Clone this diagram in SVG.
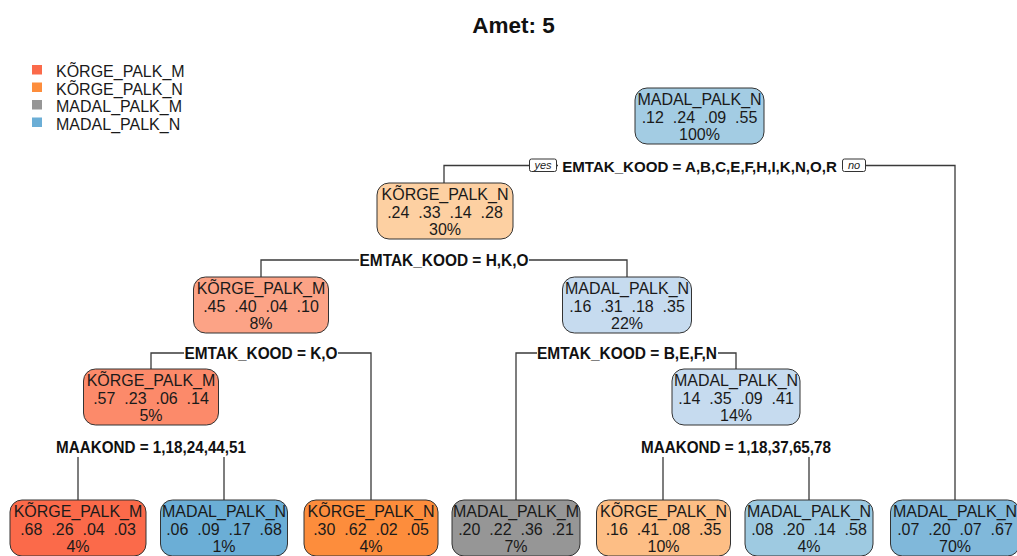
<svg xmlns="http://www.w3.org/2000/svg" width="1017" height="556" viewBox="0 0 1017 556">
  <style>
    .title { font-family: "Liberation Sans", Arial, sans-serif; font-weight: bold; font-size: 22.5px; fill: #111; text-anchor: middle; }
    .legend { font-family: "Liberation Sans", Arial, sans-serif; font-size: 16px; fill: #1a1a1a; }
    .box { stroke: #333; stroke-width: 1; }
    .nt { font-family: "Liberation Sans", Arial, sans-serif; font-size: 16px; fill: #1a1a1a; text-anchor: middle; white-space: pre; }
    .split { font-family: "Liberation Sans", Arial, sans-serif; font-weight: bold; font-size: 16px; fill: #111; text-anchor: middle; }
    .split-root { font-size: 15.1px; }
    .lbg { fill: #ffffff; }
    .edge { stroke: #3a3a3a; stroke-width: 1.3; fill: none; }
    .yn { fill: #ffffff; stroke: #333; stroke-width: 1; }
    .ynt { font-family: "Liberation Sans", Arial, sans-serif; font-style: italic; font-size: 11px; fill: #222; text-anchor: middle; }
  </style>

  <text class="title" x="513.5" y="33">Amet: 5</text>

  <!-- legend -->
  <g id="legend">
    <rect x="32" y="65" width="10" height="9.5" fill="#FB6A4A"/>
    <text class="legend" x="56" y="77">KÕRGE_PALK_M</text>
    <rect x="32" y="82.5" width="10" height="9.5" fill="#FD8D3C"/>
    <text class="legend" x="56" y="94.5">KÕRGE_PALK_N</text>
    <rect x="32" y="100" width="10" height="9.5" fill="#969696"/>
    <text class="legend" x="56" y="112">MADAL_PALK_M</text>
    <rect x="32" y="117.5" width="10" height="9.5" fill="#6BAED6"/>
    <text class="legend" x="56" y="129.5">MADAL_PALK_N</text>
  </g>

  <!-- connectors and split labels -->
  <g id="connectors">
    <path class="edge" d="M444 183 V165.5 H955 V500"/>
    <path class="edge" d="M261 277 V260 H627 V277"/>
    <path class="edge" d="M151 369 V353 H371 V500"/>
    <path class="edge" d="M516 500 V353 H736 V369"/>
    <path class="edge" d="M78 500 V446.5 H224 V500"/>
    <path class="edge" d="M663 500 V446.5 H809 V500"/>

    <rect class="lbg" x="558" y="158" width="284" height="17"/>
    <text class="split split-root" x="699.5" y="171.5">EMTAK_KOOD = A,B,C,E,F,H,I,K,N,O,R</text>
    <rect class="yn" x="529.5" y="159" width="27" height="12.5" rx="2"/>
    <text class="ynt" x="543" y="169">yes</text>
    <rect class="yn" x="842.5" y="159" width="23" height="12.5" rx="2"/>
    <text class="ynt" x="854" y="169">no</text>

    <rect class="lbg" x="359" y="252.5" width="170" height="17"/>
    <text class="split" x="444" y="266" textLength="169" lengthAdjust="spacingAndGlyphs">EMTAK_KOOD = H,K,O</text>

    <rect class="lbg" x="184" y="345.5" width="154" height="17"/>
    <text class="split" x="261" y="359" textLength="153" lengthAdjust="spacingAndGlyphs">EMTAK_KOOD = K,O</text>

    <rect class="lbg" x="537" y="345.5" width="181" height="17"/>
    <text class="split" x="627" y="359" textLength="180" lengthAdjust="spacingAndGlyphs">EMTAK_KOOD = B,E,F,N</text>

    <rect class="lbg" x="55" y="439.5" width="192" height="17.5"/>
    <text class="split" x="151" y="453" textLength="190" lengthAdjust="spacingAndGlyphs">MAAKOND = 1,18,24,44,51</text>

    <rect class="lbg" x="640" y="439.5" width="192" height="17.5"/>
    <text class="split" x="736" y="453" textLength="190" lengthAdjust="spacingAndGlyphs">MAAKOND = 1,18,37,65,78</text>
  </g>

  <!-- nodes -->
  <g id="node1">
    <rect class="box" x="635" y="88" width="129" height="56" rx="12" fill="#A3CCE3"/>
    <text class="nt" x="699.5" y="105">MADAL_PALK_N</text>
    <text class="nt" x="699.5" y="123" xml:space="preserve">.12  .24  .09  .55</text>
    <text class="nt" x="699.5" y="140">100%</text>
  </g>
  <g id="node2">
    <rect class="box" x="377" y="183" width="136" height="56" rx="12" fill="#FDD0A2"/>
    <text class="nt" x="445" y="200">KÕRGE_PALK_N</text>
    <text class="nt" x="445" y="218" xml:space="preserve">.24  .33  .14  .28</text>
    <text class="nt" x="445" y="235">30%</text>
  </g>
  <g id="node4">
    <rect class="box" x="193.5" y="277" width="135" height="56" rx="12" fill="#FCA386"/>
    <text class="nt" x="261" y="294">KÕRGE_PALK_M</text>
    <text class="nt" x="261" y="312" xml:space="preserve">.45  .40  .04  .10</text>
    <text class="nt" x="261" y="329">8%</text>
  </g>
  <g id="node5">
    <rect class="box" x="562.5" y="277" width="129" height="56" rx="12" fill="#C6DBEF"/>
    <text class="nt" x="627" y="294">MADAL_PALK_N</text>
    <text class="nt" x="627" y="312" xml:space="preserve">.16  .31  .18  .35</text>
    <text class="nt" x="627" y="329">22%</text>
  </g>
  <g id="node8">
    <rect class="box" x="83.5" y="369" width="135" height="56" rx="12" fill="#FC8A6A"/>
    <text class="nt" x="151" y="386">KÕRGE_PALK_M</text>
    <text class="nt" x="151" y="404" xml:space="preserve">.57  .23  .06  .14</text>
    <text class="nt" x="151" y="421">5%</text>
  </g>
  <g id="node11">
    <rect class="box" x="672" y="369" width="128" height="56" rx="12" fill="#C6DBEF"/>
    <text class="nt" x="736" y="386">MADAL_PALK_N</text>
    <text class="nt" x="736" y="404" xml:space="preserve">.14  .35  .09  .41</text>
    <text class="nt" x="736" y="421">14%</text>
  </g>

  <g id="leaf1">
    <rect class="box" x="10" y="500" width="136" height="56" rx="12" fill="#FB6A4A"/>
    <text class="nt" x="78" y="517">KÕRGE_PALK_M</text>
    <text class="nt" x="78" y="535" xml:space="preserve">.68  .26  .04  .03</text>
    <text class="nt" x="78" y="552">4%</text>
  </g>
  <g id="leaf2">
    <rect class="box" x="160.5" y="500" width="127" height="56" rx="12" fill="#6BAED6"/>
    <text class="nt" x="224" y="517">MADAL_PALK_N</text>
    <text class="nt" x="224" y="535" xml:space="preserve">.06  .09  .17  .68</text>
    <text class="nt" x="224" y="552">1%</text>
  </g>
  <g id="leaf3">
    <rect class="box" x="304" y="500" width="134" height="56" rx="12" fill="#FD8D3C"/>
    <text class="nt" x="371" y="517">KÕRGE_PALK_N</text>
    <text class="nt" x="371" y="535" xml:space="preserve">.30  .62  .02  .05</text>
    <text class="nt" x="371" y="552">4%</text>
  </g>
  <g id="leaf4">
    <rect class="box" x="452" y="500" width="128" height="56" rx="12" fill="#969696"/>
    <text class="nt" x="516" y="517">MADAL_PALK_M</text>
    <text class="nt" x="516" y="535" xml:space="preserve">.20  .22  .36  .21</text>
    <text class="nt" x="516" y="552">7%</text>
  </g>
  <g id="leaf5">
    <rect class="box" x="596.5" y="500" width="134" height="56" rx="12" fill="#FDBE85"/>
    <text class="nt" x="663.5" y="517">KÕRGE_PALK_N</text>
    <text class="nt" x="663.5" y="535" xml:space="preserve">.16  .41  .08  .35</text>
    <text class="nt" x="663.5" y="552">10%</text>
  </g>
  <g id="leaf6">
    <rect class="box" x="745" y="500" width="128" height="56" rx="12" fill="#9ECAE1"/>
    <text class="nt" x="809" y="517">MADAL_PALK_N</text>
    <text class="nt" x="809" y="535" xml:space="preserve">.08  .20  .14  .58</text>
    <text class="nt" x="809" y="552">4%</text>
  </g>
  <g id="leaf7">
    <rect class="box" x="890.5" y="500" width="129" height="56" rx="12" fill="#80B8DA"/>
    <text class="nt" x="955" y="517">MADAL_PALK_N</text>
    <text class="nt" x="955" y="535" xml:space="preserve">.07  .20  .07  .67</text>
    <text class="nt" x="955" y="552">70%</text>
  </g>
</svg>
